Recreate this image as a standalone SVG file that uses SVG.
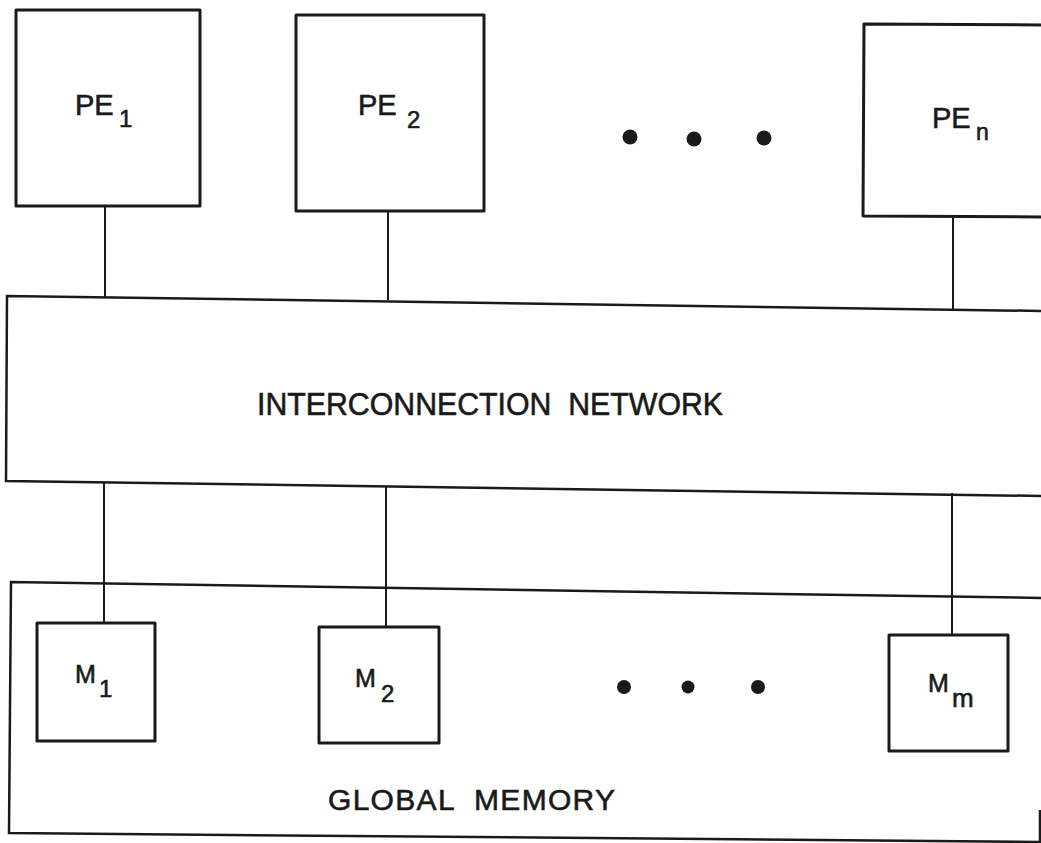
<svg xmlns="http://www.w3.org/2000/svg" width="1041" height="843" viewBox="0 0 1041 843">
<style>
.box{fill:none;stroke:#1a1a1a;stroke-width:3;stroke-linejoin:round}
.big{fill:none;stroke:#1a1a1a;stroke-width:2.5}
.conn{stroke:#1a1a1a;stroke-width:2;fill:none}
.t{font-family:"Liberation Sans","DejaVu Sans",sans-serif;fill:#1a1a1a;stroke:#1a1a1a;stroke-width:0.6;white-space:pre}
.pe{font-size:29px}
.m{font-size:25px}
.sub{font-size:24px}
.dot{fill:#1a1a1a}
</style>
<rect width="1041" height="843" fill="#fff"/>
<g id="connectors">
<line class="conn" x1="105" y1="207" x2="105" y2="297"/>
<line class="conn" x1="388" y1="211" x2="388" y2="300"/>
<line class="conn" x1="953" y1="217" x2="953" y2="309"/>
<line class="conn" x1="104" y1="482" x2="104" y2="623"/>
<line class="conn" x1="386" y1="486" x2="386" y2="627"/>
<line class="conn" x1="952" y1="493" x2="952" y2="635"/>
</g>
<g id="pe1">
<rect class="box" x="16" y="10" width="184" height="196"/>
<text class="t pe" x="75" y="115">PE</text><text class="t sub" x="119" y="127">1</text>
</g>
<g id="pe2">
<rect class="box" x="296" y="15" width="188" height="196"/>
<text class="t pe" x="358" y="115">PE</text><text class="t sub" x="407" y="128">2</text>
</g>
<g id="pe-dots">
<circle class="dot" cx="630" cy="137" r="7.5"/>
<circle class="dot" cx="694" cy="139" r="7.5"/>
<circle class="dot" cx="764" cy="138" r="7.5"/>
</g>
<g id="pen">
<polyline class="box" points="1043,25 864,24 863,216 1043,217"/>
<text class="t pe" x="932" y="128">PE</text><text class="t" x="976" y="140" style="font-size:23px">n</text>
</g>
<g id="network">
<polyline class="big" points="1043,311 7,296 6,481 1043,496"/>
<text class="t" x="257" y="415" style="font-size:32px" textLength="466" lengthAdjust="spacingAndGlyphs">INTERCONNECTION  NETWORK</text>
</g>
<g id="global-memory">
<polyline class="big" points="1043,598 11,582 9,833 1040,842 1040,810"/>
<text class="t" x="328" y="810" style="font-size:30px" textLength="287" lengthAdjust="spacing">GLOBAL  MEMORY</text>
</g>
<g id="m1">
<rect class="box" x="37" y="623" width="118" height="118"/>
<text class="t m" x="75" y="683">M</text><text class="t sub" x="99" y="697">1</text>
</g>
<g id="m2">
<rect class="box" x="319" y="627" width="120" height="116"/>
<text class="t m" x="355" y="687">M</text><text class="t sub" x="381" y="702">2</text>
</g>
<g id="mem-dots">
<circle class="dot" cx="624" cy="687" r="7"/>
<circle class="dot" cx="688" cy="687" r="6.5"/>
<circle class="dot" cx="758" cy="687" r="7"/>
</g>
<g id="mm">
<rect class="box" x="889" y="635" width="119" height="116"/>
<text class="t m" x="928" y="692">M</text><text class="t" x="952" y="707" style="font-size:26px">m</text>
</g>
</svg>
